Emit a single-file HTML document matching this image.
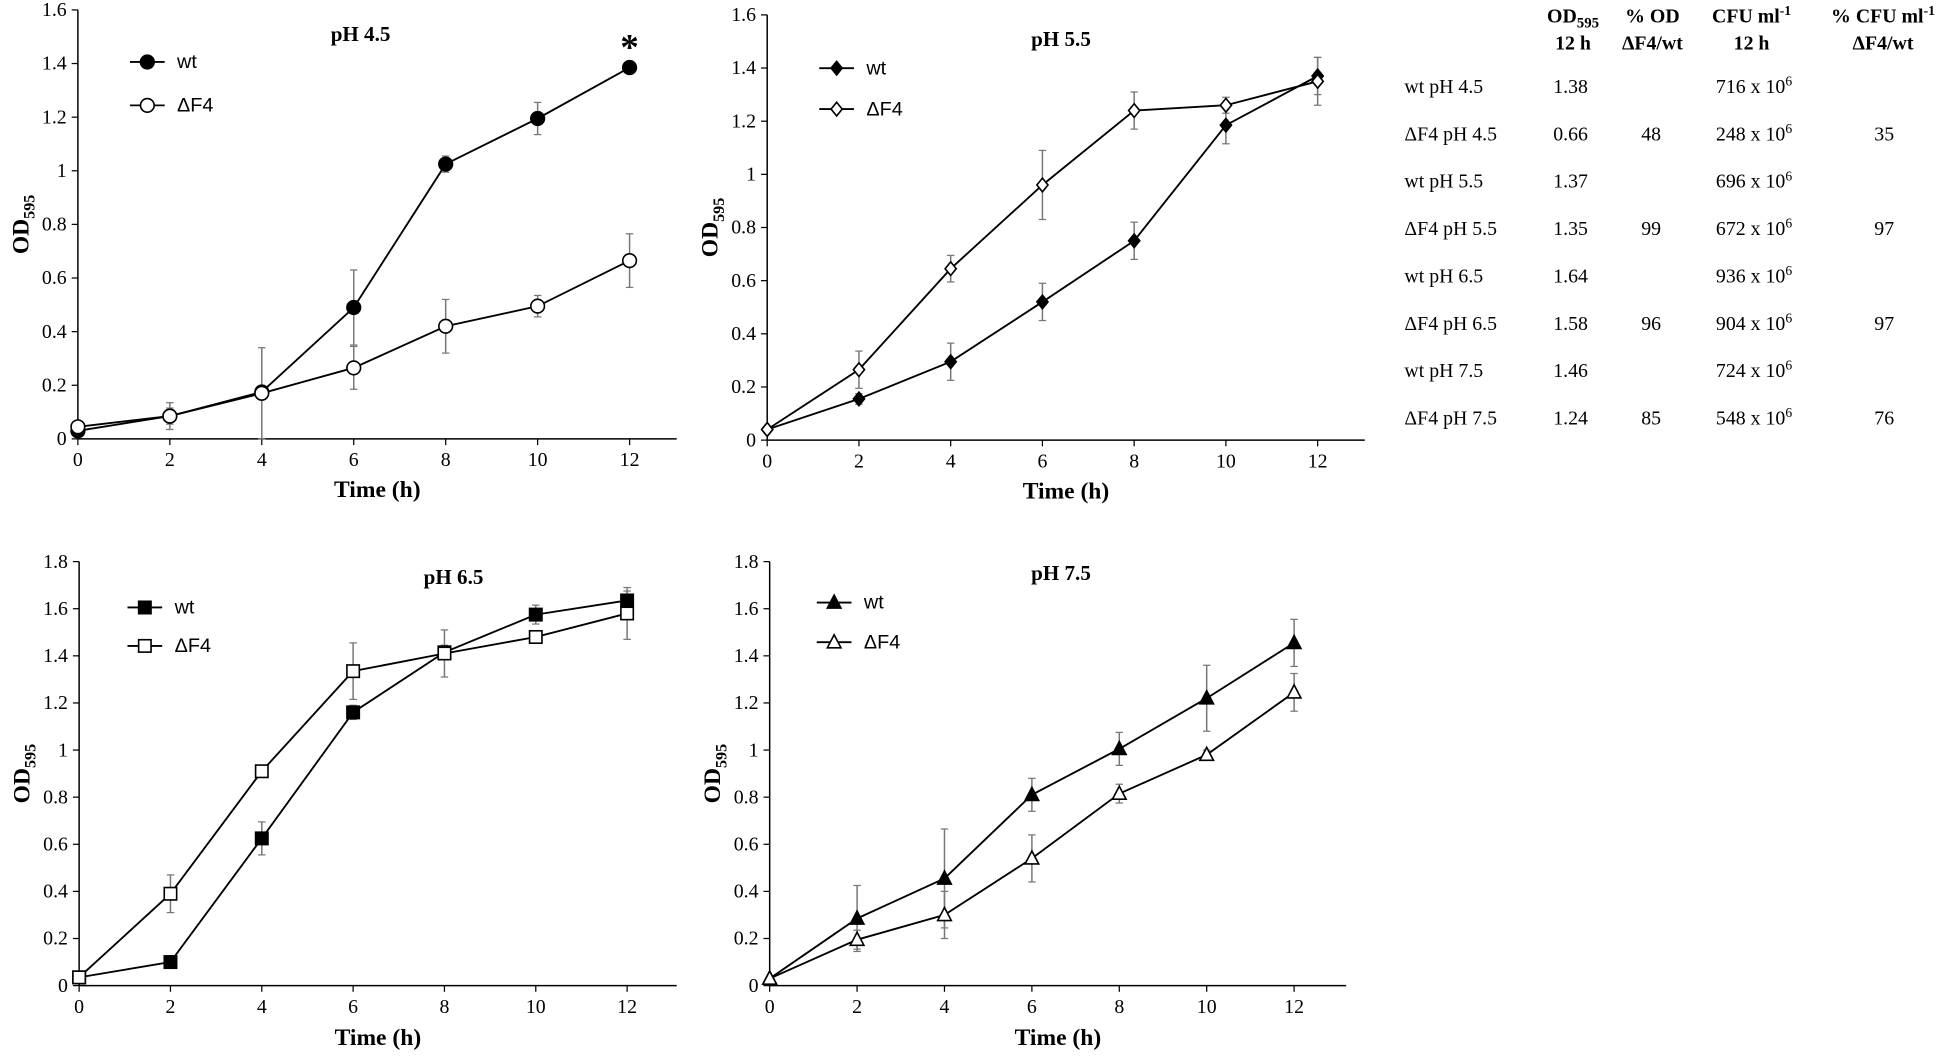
<!DOCTYPE html>
<html><head><meta charset="utf-8">
<style>
html,body{margin:0;padding:0;background:#fff;}
svg{display:block;}
text{font-family:"Liberation Serif",serif;fill:#000;}
.tk{font-size:16px;}
.ttl{font-size:17px;font-weight:bold;}
.ax{font-size:19px;font-weight:bold;}
.lg{font-family:"Liberation Sans",sans-serif;font-size:16px;}
.tb{font-size:16px;}
.th{font-size:16px;font-weight:bold;}
</style></head><body>
<svg id="s" width="1946" height="1060" viewBox="0 0 1568 855" xmlns="http://www.w3.org/2000/svg"></svg>
<script>
const S=document.getElementById('s');const NS='http://www.w3.org/2000/svg';
function el(t,a,txt){const e=document.createElementNS(NS,t);for(const k in a)e.setAttribute(k,a[k]);if(txt!==undefined)e.innerHTML=txt;S.appendChild(e);return e;}
function marker(shape,fill,x,y){
 const f=fill?'#000':'#fff';const st={fill:f,stroke:'#000','stroke-width':1.3};
 if(shape=='c')el('circle',Object.assign({cx:x,cy:y,r:5.5},st));
 else if(shape=='d')el('polygon',Object.assign({points:`${x},${y-5.5} ${x+4.5},${y} ${x},${y+5.5} ${x-4.5},${y}`},st));
 else if(shape=='s')el('rect',Object.assign({x:x-5,y:y-5,width:10,height:10},st));
 else el('polygon',Object.assign({points:`${x},${y-6} ${x+5.5},${y+4.5} ${x-5.5},${y+4.5}`},st));
}
function panel(p){
 const {x0,y0,x12,ytop,ymax,xend,shape,wt,ko,ewt,eko,title,tx,ty,lx,ly1,ly2,toff}=p;
 const X=t=>x0+(x12-x0)*t/12, Y=v=>y0-(y0-ytop)*v/ymax;
 el('line',{x1:x0,y1:y0,x2:xend,y2:y0,stroke:'#000','stroke-width':1.2});
 el('line',{x1:x0,y1:y0,x2:x0,y2:ytop,stroke:'#000','stroke-width':1.2});
 for(let v=0;v<=ymax+1e-9;v+=0.2){const yy=Y(v);el('line',{x1:x0-5,y1:yy,x2:x0,y2:yy,stroke:'#000'});
  let s=(Math.round(v*10)/10).toString();el('text',{x:x0-9,y:yy+5,'text-anchor':'end',class:'tk'},s);}
 for(let t=0;t<=12;t+=2){el('line',{x1:X(t),y1:y0,x2:X(t),y2:y0+5,stroke:'#000'});el('text',{x:X(t),y:y0+22,'text-anchor':'middle',class:'tk'},t);}
 el('text',{x:(x0+xend)/2,y:y0+toff,'text-anchor':'middle',class:'ax'},'Time (h)');
 el('text',{transform:`translate(${x0-40},${(y0+ytop)/2}) rotate(-90)`,'text-anchor':'middle',class:'ax'},'OD<tspan font-size="13" dy="5">595</tspan>');
 el('text',{x:tx,y:ty,'text-anchor':'middle',class:'ttl'},title);
 [[wt,ewt],[ko,eko]].forEach(([d,e])=>{
  for(let i=0;i<7;i++)if(e[i]){const xx=X(2*i);el('line',{x1:xx,y1:Y(d[i]-e[i]),x2:xx,y2:Y(d[i]+e[i]),stroke:'#777','stroke-width':1.2});
   el('line',{x1:xx-3,y1:Y(d[i]+e[i]),x2:xx+3,y2:Y(d[i]+e[i]),stroke:'#777'});el('line',{x1:xx-3,y1:Y(d[i]-e[i]),x2:xx+3,y2:Y(d[i]-e[i]),stroke:'#777'});}
  el('polyline',{points:d.map((v,i)=>X(2*i)+','+Y(v)).join(' '),fill:'none',stroke:'#000','stroke-width':1.5});
 });
 wt.forEach((v,i)=>marker(shape,1,X(2*i),Y(v)));ko.forEach((v,i)=>marker(shape,0,X(2*i),Y(v)));
 el('line',{x1:lx-8,y1:ly1,x2:lx+20,y2:ly1,stroke:'#000','stroke-width':1.5});marker(shape,1,lx+6,ly1);
 el('text',{x:lx+30,y:ly1+5,class:'lg'},'wt');
 el('line',{x1:lx-8,y1:ly2,x2:lx+20,y2:ly2,stroke:'#000','stroke-width':1.5});marker(shape,0,lx+6,ly2);
 el('text',{x:lx+30,y:ly2+5,class:'lg'},'ΔF4');
}
panel({x0:62,y0:354,x12:507,ytop:8,ymax:1.6,xend:545,shape:'c',toff:47,
 wt:[0.03,0.085,0.175,0.49,1.025,1.195,1.385],ko:[0.045,0.085,0.17,0.265,0.42,0.495,0.665],
 ewt:[0,0.03,0.02,0.14,0.03,0.06,0.02],eko:[0,0.05,0.17,0.08,0.1,0.04,0.1],
 title:'pH 4.5',tx:290,ty:33,lx:112,ly1:50,ly2:85});
el('text',{x:507,y:48,'text-anchor':'middle',style:'font-size:30px;font-weight:bold'},'*');
panel({x0:618,y0:355,x12:1062,ytop:12,ymax:1.6,xend:1100,shape:'d',toff:47,
 wt:[0.04,0.155,0.295,0.52,0.75,1.185,1.37],ko:[0.04,0.265,0.645,0.96,1.24,1.26,1.35],
 ewt:[0,0.02,0.07,0.07,0.07,0.07,0.07],eko:[0,0.07,0.05,0.13,0.07,0.03,0.09],
 title:'pH 5.5',tx:855,ty:37,lx:668,ly1:55,ly2:88});
panel({x0:63,y0:795,x12:505,ytop:453,ymax:1.8,xend:545,shape:'s',toff:48,
 wt:[0.035,0.1,0.625,1.16,1.415,1.575,1.635],ko:[0.035,0.39,0.91,1.335,1.41,1.48,1.58],
 ewt:[0,0.01,0.07,0.03,0.03,0.04,0.04],eko:[0,0.08,0.02,0.12,0.1,0.02,0.11],
 title:'pH 6.5',tx:365,ty:471,lx:110,ly1:490,ly2:521});
panel({x0:620,y0:795,x12:1043,ytop:453,ymax:1.8,xend:1085,shape:'t',toff:48,
 wt:[0.03,0.285,0.455,0.81,1.005,1.22,1.455],ko:[0.03,0.195,0.3,0.54,0.815,0.98,1.245],
 ewt:[0,0.14,0.21,0.07,0.07,0.14,0.1],eko:[0,0.04,0.1,0.1,0.04,0.02,0.08],
 title:'pH 7.5',tx:855,ty:468,lx:666,ly1:486,ly2:518});
const hx=[1268,1332,1412,1518];
el('text',{x:hx[0],y:18,'text-anchor':'middle',class:'th'},'OD<tspan font-size="12" dy="4">595</tspan>');
el('text',{x:hx[0],y:40,'text-anchor':'middle',class:'th'},'12 h');
el('text',{x:hx[1],y:18,'text-anchor':'middle',class:'th'},'% OD');
el('text',{x:hx[1],y:40,'text-anchor':'middle',class:'th'},'ΔF4/wt');
el('text',{x:hx[2],y:18,'text-anchor':'middle',class:'th'},'CFU ml<tspan font-size="11" dy="-6">-1</tspan>');
el('text',{x:hx[2],y:40,'text-anchor':'middle',class:'th'},'12 h');
el('text',{x:hx[3],y:18,'text-anchor':'middle',class:'th'},'% CFU ml<tspan font-size="11" dy="-6">-1</tspan>');
el('text',{x:hx[3],y:40,'text-anchor':'middle',class:'th'},'ΔF4/wt');
const rows=[['wt pH 4.5','1.38','','716',''],['ΔF4 pH 4.5','0.66','48','248','35'],['wt pH 5.5','1.37','','696',''],['ΔF4 pH 5.5','1.35','99','672','97'],
['wt pH  6.5','1.64','','936',''],['ΔF4 pH 6.5','1.58','96','904','97'],['wt pH 7.5','1.46','','724',''],['ΔF4 pH 7.5','1.24','85','548','76']];
rows.forEach((r,i)=>{const y=75+i*38.2;
 el('text',{x:1132,y:y,class:'tb','xml:space':'preserve'},r[0]);
 el('text',{x:1266,y:y,'text-anchor':'middle',class:'tb'},r[1]);
 el('text',{x:1331,y:y,'text-anchor':'middle',class:'tb'},r[2]);
 el('text',{x:1414,y:y,'text-anchor':'middle',class:'tb'},r[3]+' x 10<tspan font-size="11" dy="-6">6</tspan>');
 el('text',{x:1519,y:y,'text-anchor':'middle',class:'tb'},r[4]);
});
</script>
</body></html>
